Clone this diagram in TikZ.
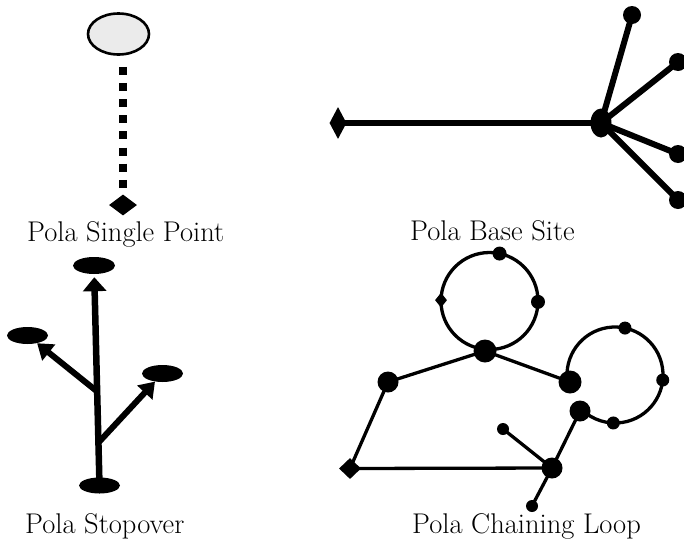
\documentclass[tikz,border=0pt]{standalone}
\usepackage{fontspec}
\usetikzlibrary{shapes.geometric,arrows.meta,calc}
\begin{document}
\begin{tikzpicture}[x=1pt,y=-1pt,
  lbl/.style={anchor=base west,inner sep=0pt,font=\fontsize{28.5}{34}\selectfont},
  dot/.style={circle,fill=black,inner sep=0pt,minimum size=#1},
  dia/.style 2 args={diamond,fill=black,inner sep=0pt,minimum width=#1,minimum height=#2},
  blob/.style 2 args={ellipse,fill=black,inner sep=0pt,minimum width=#1,minimum height=#2},
  thick line/.style={line width=6pt},
  loop line/.style={line width=3.3pt}]
\useasboundingbox (0,0) rectangle (684,541);
\clip (0,0) rectangle (684,541);

% ---- Pola Single Point
\node[ellipse,draw,line width=2.6pt,fill=black!8,minimum width=61pt,minimum height=41pt,inner sep=0pt] (sp) at (118.5,34) {};
\node[dia={28pt}{21pt}] (spd) at (123,205) {};
\draw[line width=8pt,dash pattern=on 8pt off 8.14pt,shorten <=11pt,shorten >=6.5pt] (spd.north |- sp.south) -- (spd.north);
\node[lbl] (t1) at (27,241) {Pola Single Point};

% ---- Pola Base Site
\node[dia={17pt}{32pt}] (bd) at (338,123) {};
\node[blob={21pt}{29pt}] (bh) at (601,123) {};
\node[dot=18pt] (b1) at (632,15) {};
\node[dot=18pt] (b2) at (678,62) {};
\node[dot=18pt] (b3) at (678,154) {};
\node[dot=18pt] (b4) at (678,200) {};
\draw[thick line] (bd.center) -- (bh.center);
\foreach \b in {b1,b2,b3,b4} \draw[thick line] (bh.center) -- (\b.center);
\node[lbl] (t2) at (410,240) {Pola Base Site};

% ---- Pola Stopover
\node[blob={42pt}{17pt}] (st) at (94,265.5) {};
\node[blob={41pt}{17pt}] (sl) at (27.5,335.5) {};
\node[blob={41pt}{17pt}] (sr) at (162.5,373.5) {};
\node[blob={41pt}{16pt}] (sb) at (99.5,485.5) {};
\coordinate (j1) at (97.8,392);
\coordinate (j2) at (99,442);
\draw[line width=6.5pt,-{Triangle[width=23pt,length=14pt]},shorten >=3pt] (sb.center) -- (st);
\draw[line width=6pt,-{Triangle[width=20pt,length=15pt]}] (j1) -- (sl);
\draw[line width=6pt,-{Triangle[width=20pt,length=15pt]}] (j2) -- (sr);
\node[lbl] (t3) at (25,533) {Pola Stopover};

% ---- Pola Chaining Loop
\coordinate (c1) at (489.5,301);
\coordinate (c2) at (615,375);
\draw[loop line] (c1) circle[radius=48.5];
\draw[loop line] (c2) ++(171:48) arc[start angle=171,end angle=494,radius=48];
\node[dot=14pt] (a1) at ($(c1)+(282:48.5)$) {};
\node[dia={12pt}{15pt}] (a2) at ($(c1)+(181:48.5)$) {};
\node[dot=14pt] (a3) at ($(c1)+(1:48.5)$) {};
\node[dot=23pt] (tb) at (485,351) {};
\node[dot=21pt] (L) at (388,382) {};
\node[dot=23pt] (R) at (570,382) {};
\node[dot=13pt] (r1) at ($(c2)+(282:48)$) {};
\node[dot=13pt] (r2) at ($(c2)+(6:48)$) {};
\node[dot=13pt] (r3) at ($(c2)+(92:48)$) {};
\node[dot=21pt] (big2) at (580,411) {};
\node[dia={22pt}{21pt}] (D) at (350,468.5) {};
\node[dot=21pt] (H) at (552,468) {};
\node[dot=12pt] (s1) at (503,429) {};
\node[dot=12pt] (s2) at (532,506) {};
\draw[loop line] (tb.center) -- (L.center);
\draw[loop line] (tb.center) -- (R.center);
\draw[loop line] (L.center) -- (D.center);
\draw[loop line] (D.center) -- (H.center);
\draw[loop line] (H.center) -- (big2.center);
\draw[loop line] (H.center) -- (s1.center);
\draw[loop line] (H.center) -- (s2.center);
\node[lbl] (t4) at (412,533) {Pola Chaining Loop};
\end{tikzpicture}
\end{document}
